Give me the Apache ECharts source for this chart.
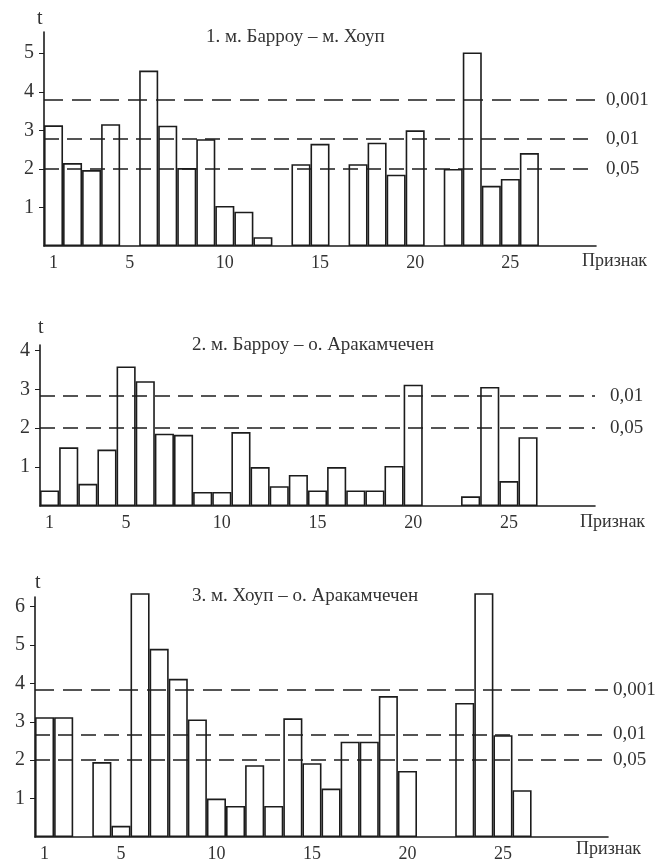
<!DOCTYPE html>
<html>
<head>
<meta charset="utf-8">
<script src="https://cdn.jsdelivr.net/npm/echarts@6/dist/echarts.min.js"></script>
<style>
  html, body { margin: 0; padding: 0; background: #fff; }
  #main { width: 660px; height: 863px; }
</style>
</head>
<body>
<div id="main"></div>
<script>
// признаки (номера)
var cats29 = ['1','2','3','4','5','6','7','8','9','10','11','12','13','14','15','16','17','18','19','20','21','22','23','24','25','26','27','28','29'];
var cats30 = cats29.concat(['30']);

// t-значения ('-' = нет столбца)
var barrowHope = [3.13, 2.15, 1.97, 3.16, '-', 4.55, 3.12, 2.02, 2.77, 1.04, 0.89, 0.23, '-', 2.12, 2.65, '-', 2.12, 2.68, 1.85, 3.0, '-', 2.0, 5.02, 1.56, 1.74, 2.41, '-', '-', '-'];
var barrowArak = [0.40, 1.51, 0.57, 1.45, 3.59, 3.21, 1.86, 1.83, 0.36, 0.36, 1.90, 1.0, 0.51, 0.80, 0.40, 1.0, 0.40, 0.40, 1.03, 3.12, '-', '-', 0.25, 3.06, 0.64, 1.77, '-', '-', '-'];
var hopeArak = [3.12, 3.12, '-', 1.95, 0.29, 6.35, 4.90, 4.12, 3.06, 1.0, 0.81, 1.87, 0.81, 3.09, 1.92, 1.26, 2.48, 2.48, 3.67, 1.72, '-', '-', 3.49, 6.35, 2.65, 1.22, '-', '-', '-', '-'];

// критические значения t
var crit1 = [{name: '0,001', v: 3.79}, {name: '0,01', v: 2.78}, {name: '0,05', v: 2.0}];
var crit2 = [{name: '0,01', v: 2.83}, {name: '0,05', v: 2.0}];
var crit3 = [{name: '0,001', v: 3.84}, {name: '0,01', v: 2.67}, {name: '0,05', v: 2.0}];

var titles = ['1. м. Барроу – м. Хоуп', '2. м. Барроу – о. Аракамчечен', '3. м. Хоуп – о. Аракамчечен'];

var FONT = '"Liberation Serif", "DejaVu Serif", serif';
var INK = '#1c1c1c';
var TXT = '#333';

var grids = [
  {left: 44, right: 64, top: 32, height: 214},
  {left: 40, right: 65, top: 345, height: 161},
  {left: 35, right: 52, top: 597, height: 241}
];
var maxes = [5.55, 4.14, 6.25];
var yLabels = [[1,2,3,4,5], [1,2,3,4], [1,2,3,4,5,6]];
var catsList = [cats29, cats29, cats30];
var dataList = [barrowHope, barrowArak, hopeArak];
var critList = [crit1, crit2, crit3];
var labelDist = [10, 15, 5];

function dashFor(name) {
  return name === '0,001' ? [19, 9] : [15, 8];
}

var xAxes = [], yAxes = [], series = [];
for (var i = 0; i < 3; i++) {
  xAxes.push({
    type: 'category', gridIndex: i, data: catsList[i],
    axisLine: {lineStyle: {color: INK, width: 1.6}},
    axisTick: {show: false},
    axisLabel: {
      color: TXT, fontFamily: FONT, fontSize: 18, margin: 8,
      interval: function (idx, val) { var n = +val; return n === 1 || (n % 5 === 0 && n <= 25); }
    }
  });
  yAxes.push({
    type: 'value', gridIndex: i, min: 0, max: maxes[i],
    splitLine: {show: false},
    axisLine: {show: true, lineStyle: {color: INK, width: 1.6}},
    axisTick: {show: true, length: 5, customValues: yLabels[i], lineStyle: {color: INK}},
    axisLabel: {color: TXT, fontFamily: FONT, fontSize: 20, margin: 10, customValues: yLabels[i]}
  });
  series.push({
    type: 'bar', xAxisIndex: i, yAxisIndex: i, data: dataList[i],
    barWidth: '100%', barGap: '0%', barCategoryGap: '0%', clip: false,
    itemStyle: {color: '#fff', borderColor: INK, borderWidth: 1.6},
    silent: true,
    markLine: {
      silent: true, symbol: 'none',
      data: critList[i].map(function (c) {
        return {yAxis: c.v, name: c.name, lineStyle: {type: dashFor(c.name)}};
      }),
      lineStyle: {color: INK, width: 1.6},
      label: {
        position: 'end', formatter: '{b}', distance: labelDist[i],
        color: TXT, fontFamily: FONT, fontSize: 19
      }
    }
  });
}

var txt = function (x, y, s, size, align) {
  return {type: 'text', x: x, y: y, style: {text: s, fill: TXT, font: size + 'px ' + FONT, textAlign: align || 'left', textVerticalAlign: 'middle'}};
};

var graphics = [
  txt(37, 19, 't', 20), txt(38, 328, 't', 20), txt(35, 583, 't', 20),
  txt(206, 37, titles[0], 19), txt(192, 345, titles[1], 19), txt(192, 596, titles[2], 19),
  txt(582, 261, 'Признак', 18), txt(580, 522, 'Признак', 18), txt(576, 849, 'Признак', 18)
];

var chart = echarts.init(document.getElementById('main'));
chart.setOption({
  animation: false,
  backgroundColor: '#fff',
  grid: grids,
  xAxis: xAxes,
  yAxis: yAxes,
  series: series,
  graphic: graphics
});
</script>
</body>
</html>
